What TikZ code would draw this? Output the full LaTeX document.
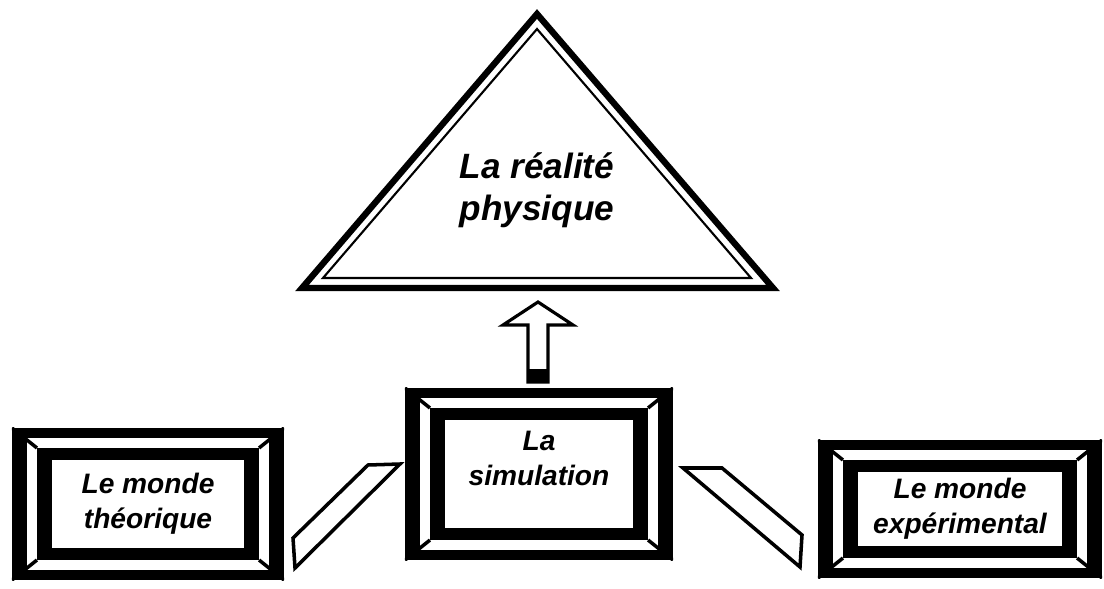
\documentclass[tikz,border=0pt]{standalone}
\usepackage{fontspec}
\setmainfont{Liberation Sans}
\tikzset{
  cadre/.style={rectangle, fill=black, inner sep=0pt, align=center,
    font=\bfseries\itshape\fontsize{8}{10}\selectfont,
    path picture={
      \coordinate (sw) at (path picture bounding box.south west);
      \coordinate (ne) at (path picture bounding box.north east);
      \fill[white] ([shift={(0.15cm,0.10cm)}]sw) rectangle ([shift={(-0.15cm,-0.10cm)}]ne);
      \fill[black] ([shift={(0.25cm,0.20cm)}]sw) rectangle ([shift={(-0.25cm,-0.20cm)}]ne);
      \fill[white] ([shift={(0.40cm,0.32cm)}]sw) rectangle ([shift={(-0.40cm,-0.32cm)}]ne);
      \draw[line width=1pt] (sw) -- ([shift={(0.25cm,0.20cm)}]sw);
      \draw[line width=1pt] (ne) -- ([shift={(-0.25cm,-0.20cm)}]ne);
      \draw[line width=1pt] (sw |- ne) -- ([shift={(0.25cm,-0.20cm)}]sw |- ne);
      \draw[line width=1pt] (ne |- sw) -- ([shift={(-0.25cm,0.20cm)}]ne |- sw);
    }},
  lien/.style={draw, line width=1pt, fill=white, line join=miter},
  fleche/.style={draw, line width=0.9pt, fill=white, line join=miter},
}
\begin{document}
\begin{tikzpicture}[x=0.01cm, y=-0.01cm]
  \useasboundingbox (0,0) rectangle (1104,588);
  \coordinate (sommet) at (537,14);
  \coordinate (bg) at (302,288);
  \coordinate (bd) at (773,288);
  \draw[line width=1.8pt, line join=miter] (sommet) -- (bg) -- (bd) -- cycle;
  \draw[line width=0.6pt] (537,29) -- (323,278) -- (751,278) -- cycle;
  \node[font=\bfseries\itshape\fontsize{10}{12}\selectfont, align=center] (reel) at (537,190) {La réalité\\physique};
  \node[cadre, minimum width=2.72cm, minimum height=1.52cm] (theo) at (148,504) {Le monde\\théorique};
  \node[cadre, minimum width=2.68cm, minimum height=1.72cm] (sim) at (539,474) {La\\simulation\\[-1pt]\mbox{}};
  \node[cadre, minimum width=2.84cm, minimum height=1.38cm] (exp) at (960,509) {Le monde\\expérimental};
  \coordinate (pied) at (538,382);
  \draw[fleche] (pied) ++(-10,0) -- ++(0,-57) -- ++(-25,0) -- (538,302) -- (573,325) -- ++(-25,0) -- ++(0,57) -- cycle;
  \fill (pied) ++(-10,0) rectangle ++(20,-13);
  \draw[lien] (293,538) -- (368,465) -- (400,464) -- (295,568) -- cycle;
  \draw[lien] (683,468) -- (722,468) -- (802,535) -- (800,567) -- cycle;
\end{tikzpicture}
\end{document}
